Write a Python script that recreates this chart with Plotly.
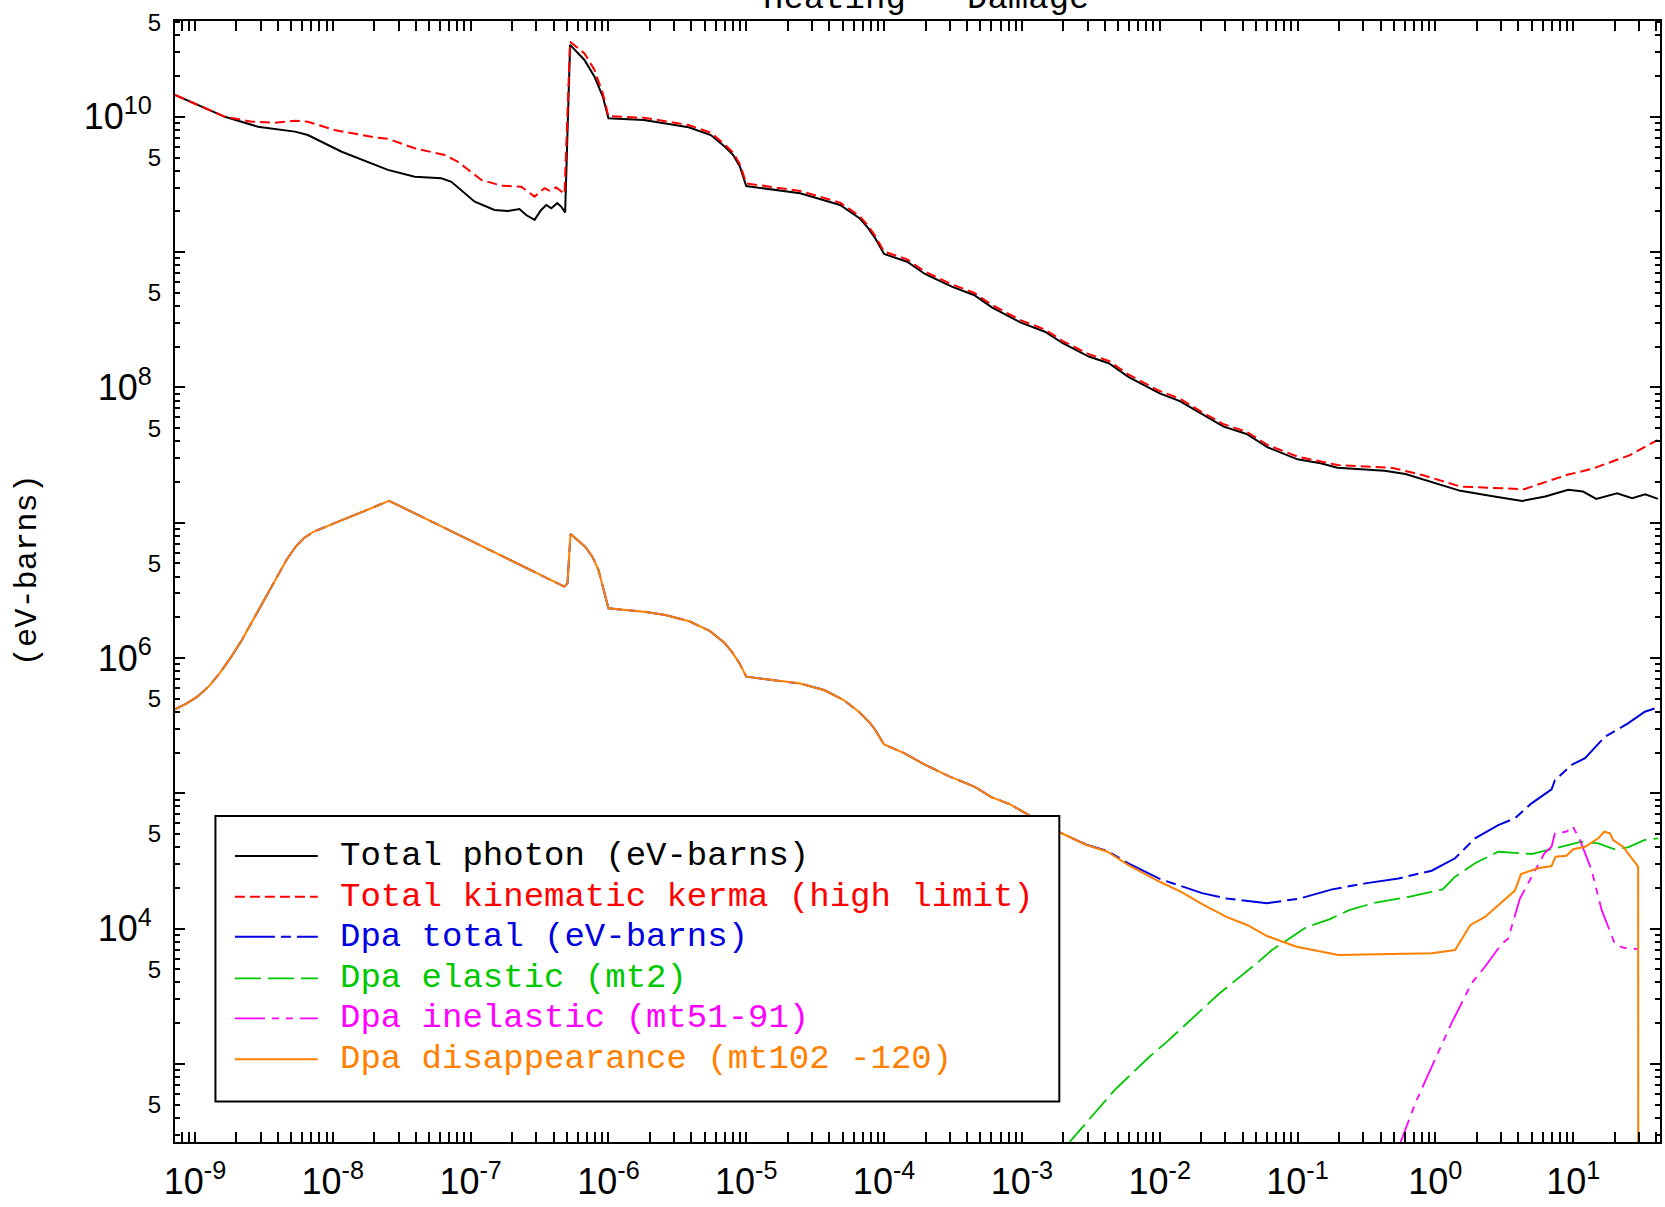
import plotly.graph_objects as go

# ---------------- data ----------------
series_names = [
    "Total photon (eV-barns)",
    "Total kinematic kerma (high limit)",
    "Dpa total (eV-barns)",
    "Dpa elastic (mt2)",
    "Dpa inelastic (mt51-91)",
    "Dpa disappearance (mt102 -120)",
]

energy_black = [7.16e-10, 1.65e-9, 2.86e-9, 5.31e-9, 6.59e-9, 1.16e-8, 2.51e-8, 3.93e-8, 6.14e-8, 7.25e-8,
                1.07e-7, 1.49e-7, 1.85e-7, 2.26e-7, 2.53e-7, 2.91e-7, 3.25e-7, 3.54e-7, 3.85e-7, 4.25e-7,
                4.54e-7, 4.85e-7, 5.27e-7, 6.70e-7, 7.92e-7, 9.10e-7, 1.00e-6, 1.81e-6, 3.82e-6, 5.53e-6,
                6.93e-6, 8.04e-6, 9.00e-6, 1.00e-5, 2.46e-5, 4.80e-5, 6.59e-5, 7.53e-5, 8.61e-5, 1.00e-4,
                1.47e-4, 1.98e-4, 3.10e-4, 4.49e-4, 6.06e-4, 9.84e-4, 1.47e-3, 1.98e-3, 3.06e-3, 4.27e-3,
                5.96e-3, 1.00e-2, 1.40e-2, 2.01e-2, 2.91e-2, 4.27e-2, 6.07e-2, 1.00e-1, 1.47e-1, 1.95e-1,
                4.27e-1, 6.07e-1, 8.05e-1, 1.52, 2.68, 4.27, 6.27, 9.20, 11.8, 14.7,
                20.8, 26.8, 33.3, 41.3]
photon_total = [1.45e10, 1.00e10, 8.45e9, 7.77e9, 7.33e9, 5.52e9, 4.05e9, 3.61e9, 3.51e9, 3.31e9,
                2.36e9, 2.05e9, 2.01e9, 2.08e9, 1.88e9, 1.73e9, 2.05e9, 2.23e9, 2.11e9, 2.30e9,
                2.17e9, 1.96e9, 3.40e10, 2.63e10, 1.98e10, 1.41e10, 9.75e9, 9.47e9, 8.36e9, 7.33e9,
                6.05e9, 5.22e9, 4.28e9, 3.08e9, 2.72e9, 2.23e9, 1.79e9, 1.54e9, 1.27e9, 9.68e8,
                8.49e8, 6.89e8, 5.55e8, 4.82e8, 3.91e8, 3.01e8, 2.58e8, 2.12e8, 1.69e8, 1.51e8,
                1.19e8, 9.04e7, 7.93e7, 6.35e7, 5.13e7, 4.53e7, 3.61e7, 2.94e7, 2.75e7, 2.55e7,
                2.42e7, 2.29e7, 2.10e7, 1.72e7, 1.56e7, 1.45e7, 1.56e7, 1.75e7, 1.70e7, 1.50e7,
                1.65e7, 1.52e7, 1.62e7, 1.50e7]

energy_red = [7.16e-10, 1.65e-9, 2.58e-9, 3.80e-9, 5.31e-9, 6.59e-9, 1.03e-8, 2.01e-8, 2.51e-8, 3.93e-8,
              6.49e-8, 8.05e-8, 1.20e-7, 1.67e-7, 2.33e-7, 2.91e-7, 3.44e-7, 3.73e-7, 4.18e-7, 4.80e-7,
              5.27e-7, 6.70e-7, 7.92e-7, 9.10e-7, 1.00e-6, 1.81e-6, 3.82e-6, 5.53e-6, 6.93e-6, 8.04e-6,
              9.00e-6, 1.00e-5, 2.46e-5, 4.80e-5, 6.59e-5, 7.53e-5, 8.61e-5, 1.00e-4, 1.47e-4, 1.98e-4,
              3.10e-4, 4.49e-4, 6.06e-4, 9.84e-4, 1.47e-3, 1.98e-3, 3.06e-3, 4.27e-3, 5.96e-3, 1.00e-2,
              1.40e-2, 2.01e-2, 2.91e-2, 4.27e-2, 6.07e-2, 1.00e-1, 1.95e-1, 4.91e-1, 8.05e-1, 1.52,
              4.41, 8.93, 13.7, 25.8, 40.9]
kerma_total = [1.45e10, 1.00e10, 9.20e9, 9.04e9, 9.36e9, 9.20e9, 7.98e9, 7.05e9, 6.88e9, 5.85e9,
               5.22e9, 4.66e9, 3.41e9, 3.10e9, 3.04e9, 2.57e9, 2.97e9, 2.85e9, 3.01e9, 2.69e9,
               3.59e10, 2.94e10, 2.22e10, 1.49e10, 1.01e10, 9.85e9, 8.69e9, 7.62e9, 6.29e9, 5.43e9,
               4.45e9, 3.22e9, 2.83e9, 2.32e9, 1.86e9, 1.60e9, 1.32e9, 1.01e9, 8.83e8, 7.17e8,
               5.77e8, 5.01e8, 4.07e8, 3.13e8, 2.68e8, 2.20e8, 1.76e8, 1.57e8, 1.24e8, 9.40e7,
               8.25e7, 6.60e7, 5.34e7, 4.71e7, 3.75e7, 3.08e7, 2.67e7, 2.54e7, 2.25e7, 1.85e7,
               1.77e7, 2.25e7, 2.50e7, 3.16e7, 4.08e7]

energy_orange = [7.16e-10, 8.71e-10, 1.04e-9, 1.26e-9, 1.51e-9, 1.82e-9, 2.19e-9, 2.63e-9, 3.18e-9, 3.80e-9,
                 4.61e-9, 5.37e-9, 6.21e-9, 7.24e-9, 8.36e-9, 1.41e-8, 2.56e-8, 6.25e-8, 1.91e-7, 4.78e-7,
                 5.04e-7, 5.31e-7, 6.78e-7, 7.66e-7, 8.47e-7, 9.20e-7, 1.00e-6, 1.81e-6, 2.59e-6, 3.86e-6,
                 5.46e-6, 6.93e-6, 7.92e-6, 8.90e-6, 1.00e-5, 2.42e-5, 3.67e-5, 5.09e-5, 6.59e-5, 7.96e-5,
                 8.61e-5, 1.00e-4, 1.40e-4, 1.99e-4, 3.00e-4, 4.52e-4, 6.05e-4, 8.11e-4, 1.15e-3, 1.84e-3,
                 2.94e-3, 4.18e-3, 5.93e-3, 1.00e-2, 1.43e-2, 2.03e-2, 3.05e-2, 4.35e-2, 6.00e-2, 9.85e-2,
                 0.198, 0.482, 0.940, 1.39, 1.79, 2.29, 3.78, 4.18, 5.57, 6.96,
                 7.45, 8.94, 10.0, 12.2, 15.2, 16.8, 18.5, 19.5, 23.0, 29.6,
                 29.7]
dpa_disappearance = [4.18e5, 4.62e5, 5.18e5, 6.17e5, 7.71e5, 1.01e6, 1.36e6, 1.91e6, 2.69e6, 3.78e6,
                     5.30e6, 6.64e6, 7.74e6, 8.57e6, 9.10e6, 1.14e7, 1.45e7, 9.33e6, 5.30e6, 3.37e6,
                     3.56e6, 8.25e6, 6.65e6, 5.58e6, 4.47e6, 3.29e6, 2.33e6, 2.20e6, 2.08e6, 1.87e6,
                     1.58e6, 1.30e6, 1.10e6, 9.20e5, 7.28e5, 6.50e5, 5.80e5, 4.89e5, 3.99e5, 3.29e5,
                     2.95e5, 2.30e5, 1.98e5, 1.62e5, 1.33e5, 1.12e5, 9.34e4, 8.34e4, 6.83e4, 5.20e4,
                     4.15e4, 3.70e4, 2.95e4, 2.22e4, 1.87e4, 1.52e4, 1.22e4, 1.06e4, 8.82e3, 7.35e3,
                     6.38e3, 6.49e3, 6.57e3, 6.95e3, 1.06e4, 1.22e4, 1.91e4, 2.53e4, 2.79e4, 2.90e4,
                     3.40e4, 3.46e4, 3.86e4, 4.03e4, 4.65e4, 5.20e4, 5.06e4, 4.52e4, 4.03e4, 2.87e4,
                     10.0]

energy_blue = [7.16e-10, 8.71e-10, 1.04e-9, 1.26e-9, 1.51e-9, 1.82e-9, 2.19e-9, 2.63e-9, 3.18e-9, 3.80e-9,
               4.61e-9, 5.37e-9, 6.21e-9, 7.24e-9, 8.36e-9, 1.41e-8, 2.56e-8, 6.25e-8, 1.91e-7, 4.78e-7,
               5.04e-7, 5.31e-7, 6.78e-7, 7.66e-7, 8.47e-7, 9.20e-7, 1.00e-6, 1.81e-6, 2.59e-6, 3.86e-6,
               5.46e-6, 6.93e-6, 7.92e-6, 8.90e-6, 1.00e-5, 2.42e-5, 3.67e-5, 5.09e-5, 6.59e-5, 7.96e-5,
               8.61e-5, 1.00e-4, 1.40e-4, 1.99e-4, 3.00e-4, 4.52e-4, 6.05e-4, 8.11e-4, 1.15e-3, 1.84e-3,
               2.94e-3, 4.18e-3, 5.93e-3, 1.00e-2, 2.03e-2, 3.05e-2, 6.00e-2, 0.104, 0.178, 0.310,
               0.540, 0.940, 1.39, 1.94, 2.86, 3.78, 4.99, 6.97, 7.37, 9.72,
               12.2, 17.0, 25.0, 33.1, 41.3]
dpa_total = [4.18e5, 4.62e5, 5.18e5, 6.17e5, 7.71e5, 1.01e6, 1.36e6, 1.91e6, 2.69e6, 3.78e6,
             5.30e6, 6.64e6, 7.74e6, 8.57e6, 9.10e6, 1.14e7, 1.45e7, 9.33e6, 5.30e6, 3.37e6,
             3.56e6, 8.25e6, 6.65e6, 5.58e6, 4.47e6, 3.29e6, 2.33e6, 2.20e6, 2.08e6, 1.87e6,
             1.58e6, 1.30e6, 1.10e6, 9.20e5, 7.28e5, 6.50e5, 5.80e5, 4.89e5, 3.99e5, 3.29e5,
             2.95e5, 2.30e5, 1.98e5, 1.62e5, 1.33e5, 1.12e5, 9.34e4, 8.34e4, 6.83e4, 5.20e4,
             4.17e4, 3.74e4, 3.03e4, 2.33e4, 1.83e4, 1.67e4, 1.54e4, 1.67e4, 1.95e4, 2.16e4,
             2.35e4, 2.68e4, 3.31e4, 4.65e4, 5.83e4, 6.53e4, 8.43e4, 1.07e5, 1.25e5, 1.62e5,
             1.82e5, 2.62e5, 3.29e5, 4.01e5, 4.32e5]

energy_green = [2.15e-3, 4.70e-3, 8.43e-3, 1.13e-2, 2.72e-2, 4.88e-2, 6.53e-2, 0.117, 0.170, 0.237,
                0.351, 0.646, 1.13, 1.39, 1.94, 2.86, 4.99, 6.97, 11.5, 15.2,
                20.0, 25.0, 33.1, 41.3]
dpa_elastic = [255, 641, 1.13e3, 1.46e3, 3.33e3, 5.38e3, 6.95e3, 1.03e4, 1.17e4, 1.37e4,
               1.54e4, 1.72e4, 1.95e4, 2.42e4, 3.04e4, 3.70e4, 3.56e4, 3.86e4, 4.39e4, 4.27e4,
               3.86e4, 3.99e4, 4.52e4, 4.65e4]

energy_magenta = [0.54, 0.715, 0.940, 1.31, 1.83, 2.29, 3.02, 3.38, 4.11, 4.99,
                  6.18, 6.97, 7.37, 8.94, 9.91, 11.2, 13.6, 16.1, 20.1, 23.0, 29.6]
dpa_inelastic = [240, 512, 953, 2.00e3, 3.94e3, 5.23e3, 7.69e3, 8.47e3, 1.67e4, 2.42e4,
                 3.60e4, 4.03e4, 5.06e4, 5.20e4, 5.73e4, 4.52e4, 2.71e4, 1.37e4, 7.69e3, 7.23e3, 7.06e3]

x_major_vals = [1e-9, 1e-8, 1e-7, 1e-6, 1e-5, 1e-4, 1e-3, 1e-2, 1e-1, 1e0, 1e1]
x_major_labels = ["10<sup>-9</sup>", "10<sup>-8</sup>", "10<sup>-7</sup>", "10<sup>-6</sup>",
                  "10<sup>-5</sup>", "10<sup>-4</sup>", "10<sup>-3</sup>", "10<sup>-2</sup>",
                  "10<sup>-1</sup>", "10<sup>0</sup>", "10<sup>1</sup>"]
y_major_vals = [1e3, 1e4, 1e5, 1e6, 1e7, 1e8, 1e9, 1e10]
y_major_labels = ["", "10<sup>4</sup>", "", "10<sup>6</sup>", "", "10<sup>8</sup>", "", "10<sup>10</sup>"]
y_five_vals = [5e2, 5e3, 5e4, 5e5, 5e6, 5e7, 5e8, 5e9, 5e10]
y_five_labels = ["5", "5", "5", "5", "5", "5", "5", "5", "5"]

title_text = "Heating - Damage"
y_title_text = "(eV-barns)"

# ---------------- layout geometry / styles ----------------
W, H = 1665, 1207
ML, MR, MT, MB = 175, 3, 21, 65
PW, PH = W - ML - MR, H - MT - MB
XR = [-9.145, 1.630]
YR = [2.423, 10.708]


def px(xp):
    return (xp - ML) / PW


def py(yp):
    return (H - MB - yp) / PH


colors = ["#000000", "#ff0000", "#0000e0", "#00c800", "#ff00ff", "#ff8000"]
dashes = ["solid", "10px,5px", "40px,6px,10px,6px", "26px,7px", "30px,7px,7px,7px,7px,7px", "solid"]
widths = [2.0, 2.0, 2.0, 1.8, 1.8, 2.0]
xs_all = [energy_black, energy_red, energy_blue, energy_green, energy_magenta, energy_orange]
ys_all = [photon_total, kerma_total, dpa_total, dpa_elastic, dpa_inelastic, dpa_disappearance]

fig = go.Figure()
for xs, ys, name, c, d, w in zip(xs_all, ys_all, series_names, colors, dashes, widths):
    fig.add_trace(go.Scatter(x=xs, y=ys, mode="lines", name=name,
                             line=dict(color=c, dash=d, width=w), showlegend=False))
# empty trace registering the overlay axis that carries the "5" labels
fig.add_trace(go.Scatter(x=[], y=[], yaxis="y2", showlegend=False, hoverinfo="skip"))

x_minor = [k * 10.0 ** e for e in range(-10, 2) for k in range(2, 10)]
y_minor = [k * 10.0 ** e for e in range(2, 11) for k in range(2, 10)]

axis_common = dict(showgrid=False, zeroline=False, showline=True, linecolor="black", linewidth=2,
                   mirror="allticks", ticks="inside", tickcolor="black", tickwidth=2, ticklen=10)
tick_font = dict(family="Liberation Sans, Arial, sans-serif", size=36, color="black")

fig.update_layout(
    width=W, height=H,
    margin=dict(l=ML, r=MR, t=MT, b=MB, pad=0),
    paper_bgcolor="white", plot_bgcolor="white",
    showlegend=False,
    xaxis=dict(type="log", range=XR, tickmode="array", tickvals=x_major_vals, ticktext=x_major_labels,
               tickfont=tick_font, ticklabelstandoff=7,
               minor=dict(tickmode="array", tickvals=x_minor, ticks="inside", ticklen=5,
                          tickwidth=1.5, tickcolor="black"),
               **axis_common),
    yaxis=dict(type="log", range=YR, tickmode="array", tickvals=y_major_vals, ticktext=y_major_labels,
               tickfont=tick_font, ticklabelstandoff=14,
               minor=dict(tickmode="array", tickvals=y_minor, ticks="inside", ticklen=5,
                          tickwidth=1.5, tickcolor="black"),
               **axis_common),
    yaxis2=dict(type="log", range=YR, overlaying="y", side="left", anchor="x",
                tickmode="array", tickvals=y_five_vals, ticktext=y_five_labels,
                ticks="", showline=False, showgrid=False, zeroline=False, ticklabelstandoff=13,
                tickfont=dict(family="Liberation Sans, Arial, sans-serif", size=24, color="black")),
)

# ---------------- hand-drawn legend box (IDL style) ----------------
legend_font = "Liberation Mono, DejaVu Sans Mono, monospace"
row_y = [856, 896.7, 936.7, 978.3, 1018.3, 1059.3]
shapes = [dict(type="rect", xref="paper", yref="paper", x0=px(215.5), x1=px(1060.5),
               y0=py(1101.5), y1=py(816), line=dict(color="black", width=2),
               fillcolor="white", layer="above")]
annotations = []
for name, c, d, w, ry in zip(series_names, colors, dashes, widths, row_y):
    shapes.append(dict(type="line", xref="paper", yref="paper", x0=px(235), x1=px(318),
                       y0=py(ry), y1=py(ry), line=dict(color=c, dash=d, width=w), layer="above"))
    annotations.append(dict(text=name, xref="paper", yref="paper", x=px(338.7), y=py(ry),
                            xanchor="left", yanchor="middle", showarrow=False,
                            font=dict(family=legend_font, size=34, color=c)))

annotations.append(dict(text=title_text, xref="paper", yref="paper", x=px(927), y=py(19.5),
                        xanchor="center", yanchor="bottom", showarrow=False,
                        font=dict(family=legend_font, size=34, color="black")))
annotations.append(dict(text=y_title_text, xref="paper", yref="paper", x=px(28), y=py(570),
                        xanchor="center", yanchor="middle", showarrow=False, textangle=-90,
                        font=dict(family=legend_font, size=32, color="black")))

fig.update_layout(shapes=shapes, annotations=annotations)

fig.write_html("out.html", config={"displayModeBar": False},
               post_script="document.body.style.margin='0px';")
